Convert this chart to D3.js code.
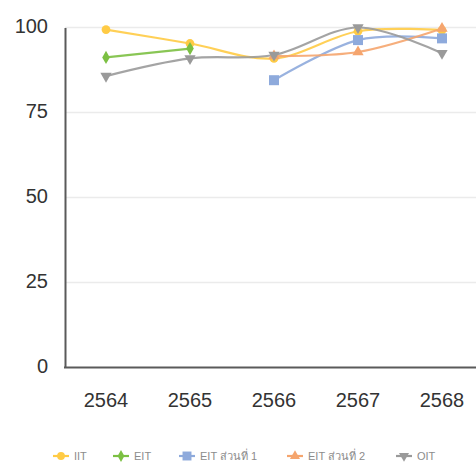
<!DOCTYPE html>
<html><head><meta charset="utf-8">
<script src="https://cdn.jsdelivr.net/npm/d3@7"></script>
<style>body{margin:0;background:#fff;}svg{display:block;}</style>
</head><body>
<svg id="c" width="476" height="468"></svg>
<script>
const years = ["2564","2565","2566","2567","2568"];
const yTicks = [0,25,50,75,100];
const seriesNames = ["IIT","EIT","EIT ส่วนที่ 1","EIT ส่วนที่ 2","OIT"];
const iit   = [99.4, 95.3, 90.9, 98.9, 99.2];
const eit   = [91.2, 93.8, null, null, null];
const eit1  = [null, null, 84.5, 96.3, 96.8];
const eit2  = [null, null, 91.6, 92.8, 99.7];
const oit   = [85.7, 90.9, 91.9, 100.0, 92.4];
const colors = ["#FFCB45","#7CC043","#8EAADC","#F5A56E","#9A9A9A"];
const symbols = [d3.symbolCircle, d3.symbolDiamond, d3.symbolSquare, d3.symbolTriangle, d3.symbolTriangle];
const symSizes = [60, 50, 100, 55, 55];
const rotations = [0,0,0,0,180];
const allSeries = [iit, eit, eit1, eit2, oit];

const svg = d3.select("#c");
const x = d3.scaleBand().domain(years).range([64, 484]);
const y = d3.scaleLinear().domain([0,100]).range([367.5, 27.5]);
const font = "'Liberation Sans', Arial, sans-serif";

// gridlines
svg.append("g").selectAll("line").data(yTicks.filter(d=>d>0)).join("line")
  .attr("x1", 65).attr("x2", 476)
  .attr("y1", d=>y(d)).attr("y2", d=>y(d))
  .attr("stroke", "#ebebeb").attr("stroke-width", 1.5);

// y axis
const ya = svg.append("g").attr("transform","translate(65,0)")
  .call(d3.axisLeft(y).tickValues(yTicks).tickSize(0).tickPadding(17));
ya.select(".domain").attr("stroke","#5a5a5a").attr("stroke-width",2);
ya.selectAll("text").attr("font-family",font).attr("font-size",20).attr("fill","#333").attr("dy","0.25em");

// x axis
const xa = svg.append("g").attr("transform","translate(0,367.5)")
  .call(d3.axisBottom(x).tickSize(0).tickPadding(25));
xa.select(".domain").attr("d","M64,0H476").attr("stroke","#5a5a5a").attr("stroke-width",2);
xa.selectAll("text").attr("font-family",font).attr("font-size",20).attr("fill","#333");

const cx = d => x(d) + x.bandwidth()/2;
const line = d3.line().defined(d=>d.v!=null).x(d=>cx(d.yr)).y(d=>y(d.v))
  .curve(d3.curveCardinal.tension(0));

allSeries.forEach((s,i)=>{
  const pts = years.map((yr,j)=>({yr, v:s[j]}));
  svg.append("path").datum(pts).attr("d", line)
    .attr("fill","none").attr("stroke",colors[i]).attr("stroke-width",2.2).attr("opacity",0.9);
});
allSeries.forEach((s,i)=>{
  const pts = years.map((yr,j)=>({yr, v:s[j]})).filter(d=>d.v!=null);
  svg.append("g").selectAll("path").data(pts).join("path")
    .attr("d", d3.symbol().type(symbols[i]).size(symSizes[i]))
    .attr("transform", d=>`translate(${cx(d.yr)},${y(d.v)}) rotate(${rotations[i]})`)
    .attr("fill", colors[i]);
});

// legend
const legX = [61, 121, 187, 295, 404];
const lg = svg.append("g");
seriesNames.forEach((n,i)=>{
  const g = lg.append("g").attr("transform",`translate(${legX[i]},456)`);
  g.append("line").attr("x1",-8).attr("x2",8).attr("stroke",colors[i]).attr("stroke-width",2.2);
  g.append("path").attr("d", d3.symbol().type(symbols[i]).size(symSizes[i]*0.8))
    .attr("transform",`rotate(${rotations[i]})`).attr("fill",colors[i]);
  g.append("text").attr("x",13).attr("y",0).attr("dy","0.35em")
    .attr("font-family",font).attr("font-size",11).attr("fill","#8c8c8c").text(n);
});
</script>
</body></html>
